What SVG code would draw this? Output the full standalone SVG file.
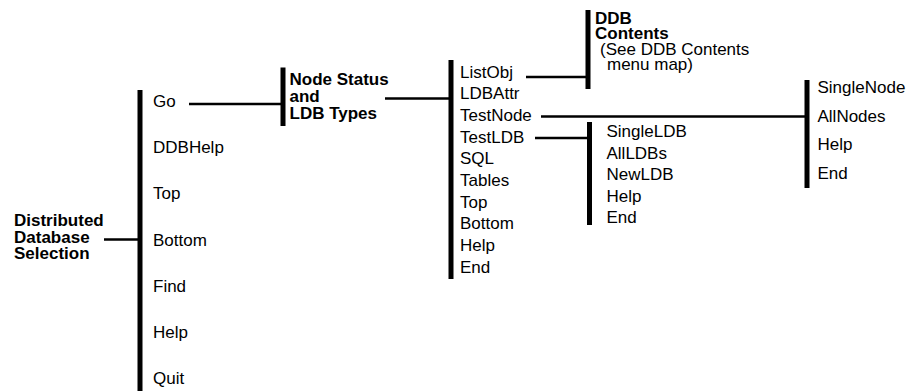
<svg xmlns="http://www.w3.org/2000/svg" width="915" height="391" viewBox="0 0 915 391">
  <style>
    .t { font-family: "Liberation Sans", Arial, sans-serif; font-size: 17px; fill: #000; }
    .b { font-weight: bold; }
    .bar { fill: #000; }
    .c line { stroke: #000; stroke-width: 2.5; }
  </style>
  <rect width="915" height="391" fill="#fff"/>
  <g id="connectors" class="c">
    <line x1="104" y1="239.5" x2="138" y2="239.5"/>
    <line x1="189" y1="104" x2="281" y2="104"/>
    <line x1="385" y1="98.5" x2="449" y2="98.5"/>
    <line x1="526" y1="77" x2="586" y2="77"/>
    <line x1="541" y1="116.5" x2="805" y2="116.5"/>
    <line x1="535" y1="138" x2="588" y2="138"/>
  </g>
  <g id="root">
    <text class="t b" x="14" y="225.5">Distributed</text>
    <text class="t b" x="14" y="242.5">Database</text>
    <text class="t b" x="14" y="259">Selection</text>
  </g>
  <g id="main-menu">
    <rect class="bar" x="137.5" y="90" width="5" height="301"/>
    <text class="t" x="153" y="107">Go</text>
    <text class="t" x="153" y="153">DDBHelp</text>
    <text class="t" x="153" y="199">Top</text>
    <text class="t" x="153" y="245.5">Bottom</text>
    <text class="t" x="153" y="291.5">Find</text>
    <text class="t" x="153" y="337.5">Help</text>
    <text class="t" x="153" y="383.5">Quit</text>
  </g>
  <g id="node-status">
    <rect class="bar" x="280.5" y="67.5" width="5" height="58.5"/>
    <text class="t b" x="289.5" y="85">Node Status</text>
    <text class="t b" x="289.5" y="102">and</text>
    <text class="t b" x="289.5" y="119">LDB Types</text>
  </g>
  <g id="node-status-menu">
    <rect class="bar" x="448.5" y="60" width="5" height="219"/>
    <text class="t" x="460" y="77.7">ListObj</text>
    <text class="t" x="460" y="99.3">LDBAttr</text>
    <text class="t" x="460" y="121">TestNode</text>
    <text class="t" x="460" y="142.6">TestLDB</text>
    <text class="t" x="460" y="164.3">SQL</text>
    <text class="t" x="460" y="186">Tables</text>
    <text class="t" x="460" y="207.6">Top</text>
    <text class="t" x="460" y="229.3">Bottom</text>
    <text class="t" x="460" y="251">Help</text>
    <text class="t" x="460" y="272.6">End</text>
  </g>
  <g id="ddb-contents">
    <rect class="bar" x="585.5" y="10" width="5" height="79"/>
    <text class="t b" x="595" y="23.5">DDB</text>
    <text class="t b" x="595" y="39">Contents</text>
    <text class="t" x="600" y="54.5">(See DDB Contents</text>
    <text class="t" x="607" y="70">menu map)</text>
  </g>
  <g id="testldb-menu">
    <rect class="bar" x="587" y="122" width="5" height="103"/>
    <text class="t" x="606.5" y="137">SingleLDB</text>
    <text class="t" x="606.5" y="158.5">AllLDBs</text>
    <text class="t" x="606.5" y="180">NewLDB</text>
    <text class="t" x="606.5" y="201.5">Help</text>
    <text class="t" x="606.5" y="223">End</text>
  </g>
  <g id="testnode-menu">
    <rect class="bar" x="804.5" y="80" width="5" height="108"/>
    <text class="t" x="817.5" y="93">SingleNode</text>
    <text class="t" x="817.5" y="121.5">AllNodes</text>
    <text class="t" x="817.5" y="150">Help</text>
    <text class="t" x="817.5" y="178.5">End</text>
  </g>
</svg>
